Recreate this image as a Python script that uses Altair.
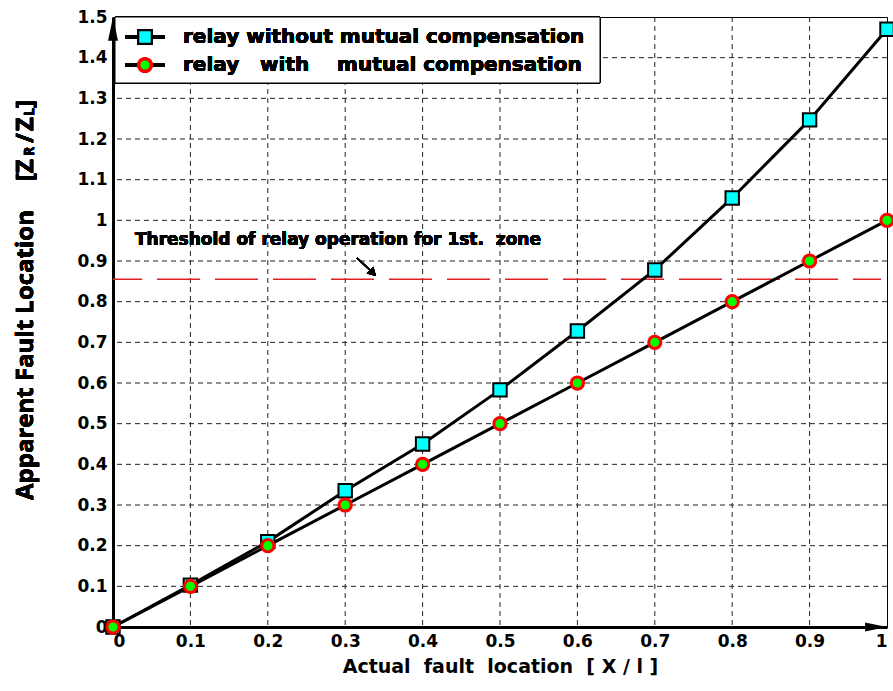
import altair as alt
import pandas as pd

x_vals = [0.0, 0.1, 0.2, 0.3, 0.4, 0.5, 0.6, 0.7, 0.8, 0.9, 1.0]
without_comp = [0.0, 0.103, 0.21, 0.335, 0.45, 0.583, 0.728, 0.878, 1.055, 1.247, 1.47]
with_comp = [0.0, 0.1, 0.2, 0.3, 0.4, 0.5, 0.6, 0.7, 0.8, 0.9, 1.0]
x_grid = [0.1, 0.2, 0.3, 0.4, 0.5, 0.6, 0.7, 0.8, 0.9]
y_grid = [0.1, 0.2, 0.3, 0.4, 0.5, 0.6, 0.7, 0.8, 0.9, 1.0, 1.1, 1.2, 1.3, 1.4]
threshold = 0.855

NB = "\u00a0"
W, H = 774, 610
WIDE = "DejaVu Sans"

df = pd.DataFrame({"x": x_vals, "without": without_comp, "with": with_comp})
xs = alt.Scale(domain=[0, 1], nice=False)
ys = alt.Scale(domain=[0, 1.5], nice=False)

xaxis = alt.Axis(values=x_vals, labelExpr="datum.value == 0 ? '0' : datum.value == 1 ? '1' : format(datum.value, '.1f')",
                 title=f"Actual{NB}{NB}fault{NB}{NB}location{NB}{NB}[{NB}X{NB}/{NB}l{NB}]", grid=False, ticks=False,
                 domainColor="black", domainWidth=3, labelFont=WIDE, labelFontWeight="bold",
                 labelFontSize=17, labelColor="black", labelPadding=6, titleFont=WIDE, titleFontSize=19,
                 titleFontWeight="bold", titleColor="black", titlePadding=8)
yaxis = alt.Axis(values=[0, 0.1, 0.2, 0.3, 0.4, 0.5, 0.6, 0.7, 0.8, 0.9, 1.0, 1.1, 1.2, 1.3, 1.4, 1.5],
                 labelExpr="datum.value == 0 ? '0' : datum.value == 1 ? '1' : format(datum.value, '.1f')",
                 title=None, grid=False, ticks=False, domainColor="black", domainWidth=3,
                 labelFont=WIDE, labelFontWeight="bold", labelFontSize=17, labelColor="black",
                 labelPadding=6)

base = alt.Chart(df)

gx = alt.Chart(pd.DataFrame({"g": x_grid})).mark_rule(color="#222", strokeWidth=1, strokeDash=[5, 4]).encode(
    x=alt.X("g:Q", scale=xs, axis=xaxis))
gy = alt.Chart(pd.DataFrame({"g": y_grid})).mark_rule(color="#222", strokeWidth=1, strokeDash=[5, 4]).encode(
    y=alt.Y("g:Q", scale=ys, axis=yaxis))

legend_box = base.mark_rect(fill="white", stroke="black", strokeWidth=1).encode(
    x=alt.value(2), x2=alt.value(487), y=alt.value(0), y2=alt.value(66))

thr = alt.Chart(pd.DataFrame({"t": [threshold]})).mark_rule(color="#e02020", strokeWidth=1.6,
                                                             strokeDash=[43, 15], strokeDashOffset=14).encode(
    y=alt.Y("t:Q", scale=ys), x=alt.value(0), x2=alt.value(768))

line1 = base.mark_line(color="black", strokeWidth=3).encode(
    x=alt.X("x:Q", scale=xs), y=alt.Y("without:Q", scale=ys))
line2 = base.mark_line(color="black", strokeWidth=3).encode(
    x=alt.X("x:Q", scale=xs), y=alt.Y("with:Q", scale=ys))
pts1 = base.mark_square(size=180, fill="#00ffff", stroke="black", strokeWidth=2, opacity=1).encode(
    x=alt.X("x:Q", scale=xs), y=alt.Y("without:Q", scale=ys))
pts2 = base.mark_circle(size=150, fill="#00ff00", stroke="#ff0000", strokeWidth=3, opacity=1).encode(
    x=alt.X("x:Q", scale=xs), y=alt.Y("with:Q", scale=ys))

# axis arrowheads
arr_y = alt.Chart(pd.DataFrame({"a": [0], "b": [1.5]})).mark_point(
    shape="M0,-1L0.42,1L-0.42,1Z", size=560, filled=True, color="black", opacity=1, yOffset=12).encode(
    x=alt.X("a:Q", scale=xs), y=alt.Y("b:Q", scale=ys))
arr_x = alt.Chart(pd.DataFrame({"a": [1.0], "b": [0]})).mark_point(
    shape="M1,0L-1,-0.42L-1,0.42Z", size=480, filled=True, color="black", opacity=1, xOffset=-11).encode(
    x=alt.X("a:Q", scale=xs), y=alt.Y("b:Q", scale=ys))

# threshold annotation
thr_text = base.mark_text(text=f"Threshold of relay operation for 1st.{NB}{NB}zone", font=WIDE, fontWeight="bold",
                          fontSize=17, align="left", baseline="middle", color="black").encode(
    x=alt.value(22), y=alt.value(223))
thr_arrow_line = base.mark_rule(color="black", strokeWidth=1.5).encode(
    x=alt.value(244), y=alt.value(241), x2=alt.value(258), y2=alt.value(254))
thr_arrow_head = base.mark_point(shape="triangle-up", size=90, filled=True, color="black", opacity=1,
                                 angle=135).encode(x=alt.value(260), y=alt.value(256))

# legend contents
leg_line1 = base.mark_rule(color="black", strokeWidth=3).encode(
    x=alt.value(12), x2=alt.value(52), y=alt.value(20))
leg_line2 = base.mark_rule(color="black", strokeWidth=3).encode(
    x=alt.value(12), x2=alt.value(52), y=alt.value(48))
leg_sq = base.mark_square(size=180, fill="#00ffff", stroke="black", strokeWidth=2, opacity=1).encode(
    x=alt.value(32), y=alt.value(20))
leg_ci = base.mark_circle(size=150, fill="#00ff00", stroke="#ff0000", strokeWidth=3, opacity=1).encode(
    x=alt.value(32), y=alt.value(48))
leg_t1 = base.mark_text(text="relay without mutual compensation", font=WIDE, fontWeight="bold", fontSize=20,
                        align="left", baseline="middle", color="black").encode(x=alt.value(70), y=alt.value(20))
leg_t2 = base.mark_text(text=f"relay{NB}{NB}{NB}with{NB}{NB}{NB}{NB}mutual compensation", font=WIDE,
                        fontWeight="bold", fontSize=20,
                        align="left", baseline="middle", color="black").encode(x=alt.value(70), y=alt.value(48))

# y title pieces (rotated)
YT = "Open Sans"
def ypiece(txt, ypos, size, xoff=0):
    return base.mark_text(text=txt, font=YT, fontWeight="bold", fontSize=size, angle=270, align="left",
                          baseline="alphabetic", color="black").encode(x=alt.value(-80 + xoff), y=alt.value(ypos))

ytitle = [
    ypiece("Apparent Fault Location", 483, 24),
    ypiece("[Z", 164, 24),
    ypiece("R", 139, 14, 1),
    ypiece("/", 126, 24),
    ypiece("Z", 114, 24),
    ypiece("L", 99, 14, 1),
    ypiece("]", 91, 24),
]

chart = alt.layer(gx, gy, thr, legend_box, line1, line2, pts1, pts2, arr_y, arr_x, thr_text,
                  thr_arrow_line, thr_arrow_head, leg_line1, leg_line2, leg_sq, leg_ci, leg_t1, leg_t2,
                  *ytitle).properties(
    width=W, height=H, autosize=alt.AutoSizeParams(type="none"),
    padding={"left": 113, "top": 17, "right": 6, "bottom": 64}, background="white"
).configure_view(stroke="black", strokeWidth=1)

chart.save("out.html", embed_options={"renderer": "svg", "actions": False})
